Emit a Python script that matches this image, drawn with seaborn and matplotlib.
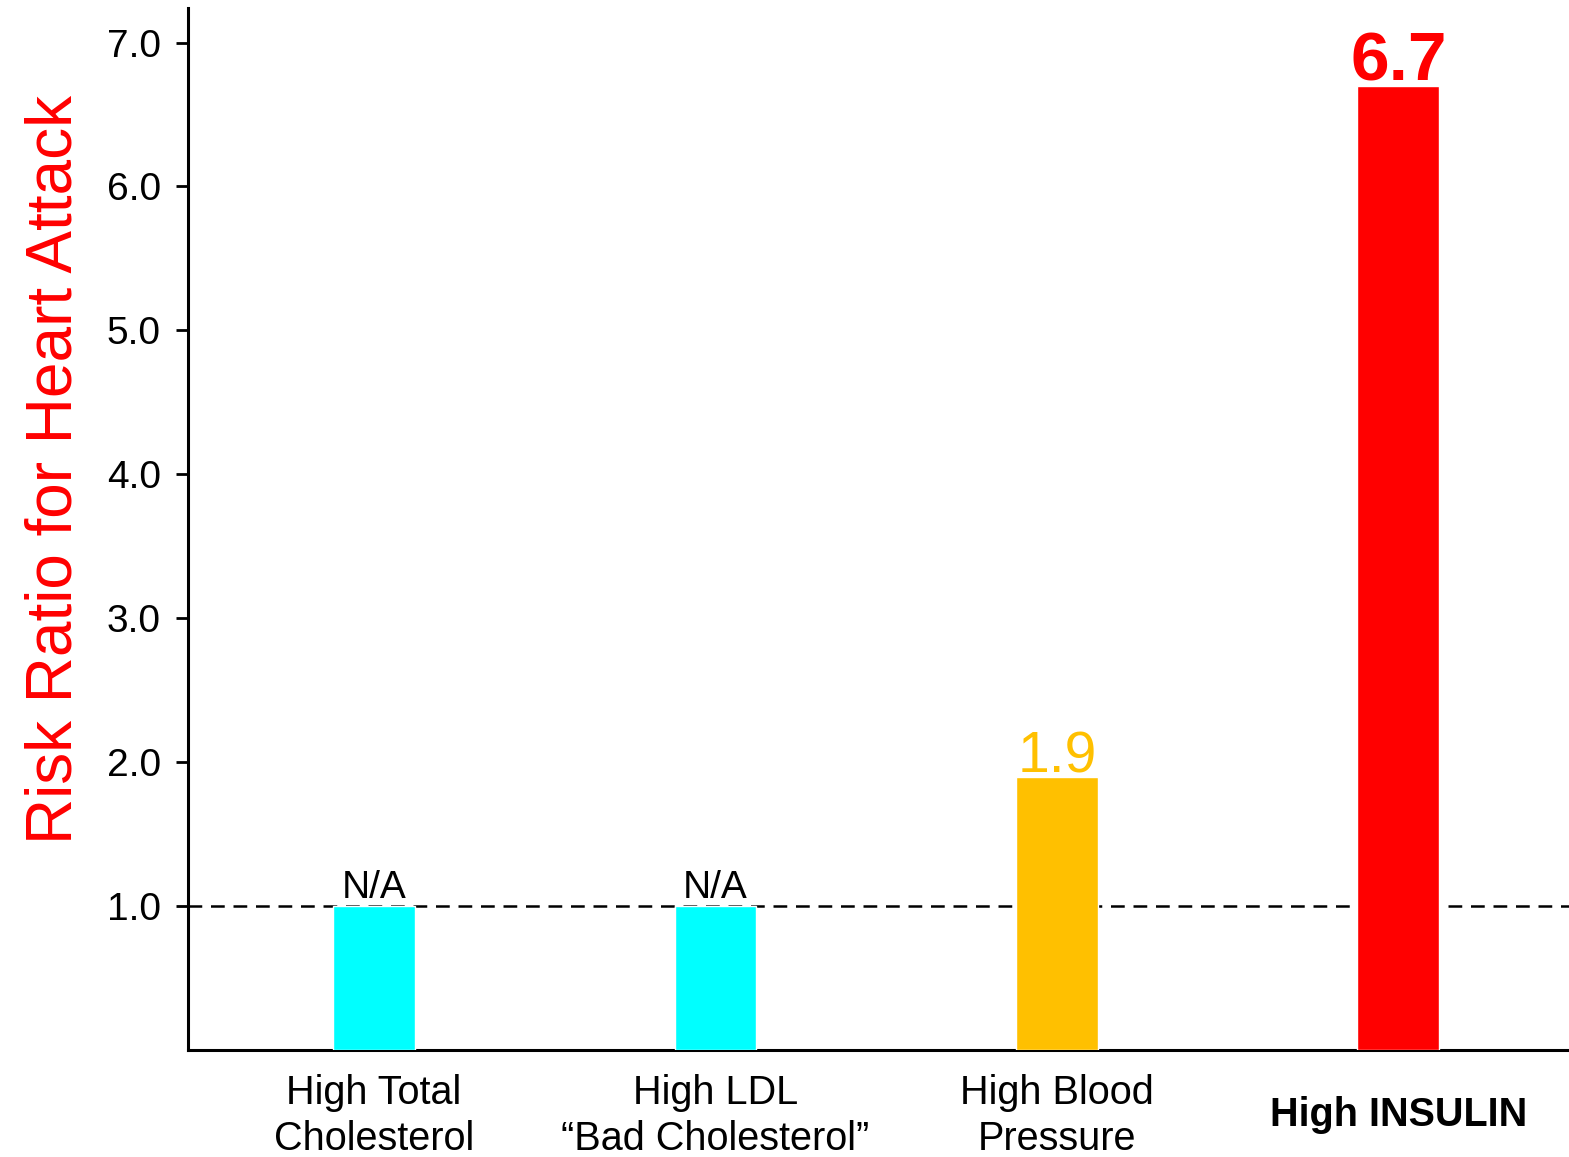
import matplotlib
matplotlib.use("Agg")
import matplotlib.pyplot as plt
import seaborn as sns
import pandas as pd

# Risk factors and their risk ratios for heart attack
categories = ["High Total\nCholesterol", "High LDL\n\u201cBad Cholesterol\u201d",
              "High Blood\nPressure", "High INSULIN"]
risk_ratio = [1.0, 1.0, 1.9, 6.7]
value_labels = ["N/A", "N/A", "1.9", "6.7"]
bar_colors = ["#00FFFF", "#00FFFF", "#FFC000", "#FF0000"]
ytick_values = [1.0, 2.0, 3.0, 4.0, 5.0, 6.0, 7.0]

sns.set_theme(style="white")
plt.rcParams["font.family"] = ["Liberation Sans", "DejaVu Sans"]

df = pd.DataFrame({"factor": categories, "ratio": risk_ratio})

fig = plt.figure(figsize=(15.69, 11.57), dpi=100)
ax = fig.add_axes([188 / 1569, 1 - 1050 / 1157, 1 - 188 / 1569, (1050 - 8) / 1157])

sns.barplot(data=df, x="factor", y="ratio", hue="factor", palette=bar_colors,
            legend=False, width=0.24, saturation=1, ax=ax, zorder=3)

# Reference line at risk ratio 1.0
ax.axhline(1.0, color="black", lw=1.8, ls=(0, (5.5, 3.5)), zorder=2)

ax.set_xlim(-0.545, 3.5)
ax.set_ylim(0, 7.24)
ax.set_yticks(ytick_values)
ax.set_yticklabels([f"{v:.1f}" for v in ytick_values])
ax.set_xlabel("")
ax.set_ylabel("Risk Ratio for Heart Attack", color="#FF0000", fontsize=46)
ax.yaxis.set_label_coords(-0.075, 0.557)

for side in ["top", "right"]:
    ax.spines[side].set_visible(False)
for side in ["left", "bottom"]:
    ax.spines[side].set_color("black")
    ax.spines[side].set_linewidth(2.2)

ax.tick_params(axis="y", which="major", direction="out", length=8.5, width=2,
               color="black", labelsize=28, labelcolor="black", pad=11, left=True)
ax.tick_params(axis="x", length=0, labelsize=28.5, labelcolor="black", pad=17)

ticks = ax.xaxis.get_major_ticks()
for t in ticks:
    t.label1.set_linespacing(1.28)
ticks[3].label1.set_fontweight("bold")
ticks[3].set_pad(33)

# Value annotations above the bars
label_styles = [
    dict(color="black", fontsize=28, fontweight="normal", dy=6),
    dict(color="black", fontsize=28, fontweight="normal", dy=6),
    dict(color="#FFC000", fontsize=41, fontweight="normal", dy=3),
    dict(color="#FF0000", fontsize=50, fontweight="bold", dy=4),
]
for i, (val, txt, st) in enumerate(zip(risk_ratio, value_labels, label_styles)):
    ax.annotate(txt, xy=(i, val), xytext=(0, st["dy"]), textcoords="offset points",
                ha="center", va="baseline", color=st["color"],
                fontsize=st["fontsize"], fontweight=st["fontweight"], zorder=4)

fig.savefig("out.png", dpi=100, facecolor="white")
